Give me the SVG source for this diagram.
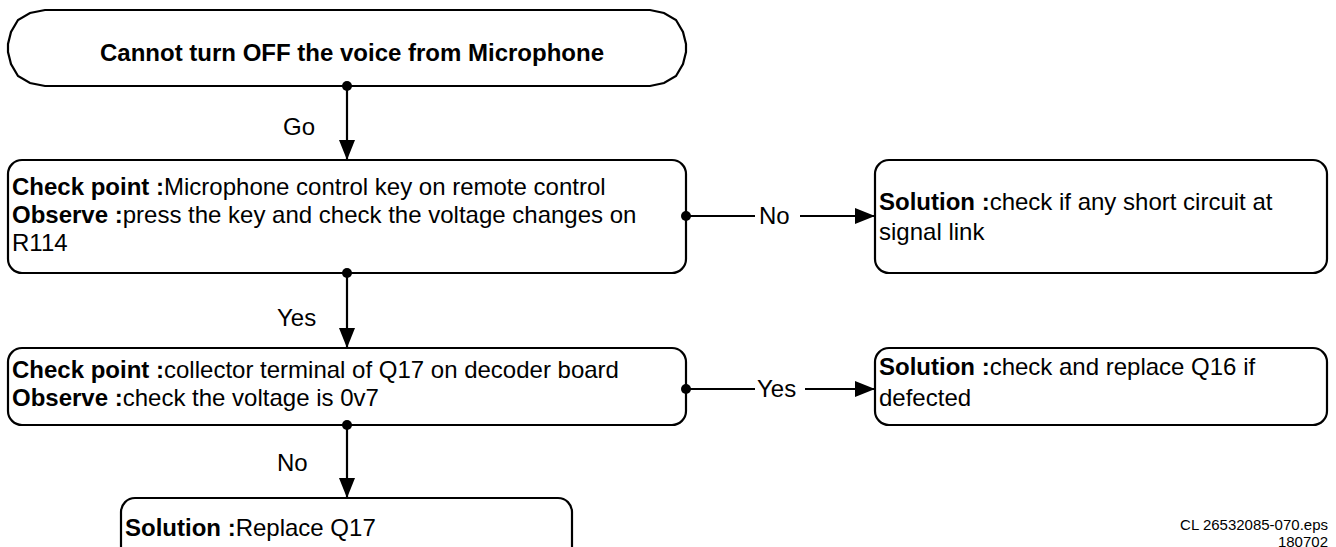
<svg xmlns="http://www.w3.org/2000/svg" width="1336" height="547" viewBox="0 0 1336 547">
<defs>
<style>
.box{fill:#fff;stroke:#000;stroke-width:2.2}
.ln{fill:none;stroke:#000;stroke-width:2.2}
.dot{fill:#000}
text{font-family:"Liberation Sans",Arial,sans-serif;font-size:24px;fill:#000}
.b{font-weight:bold}
.c{text-anchor:middle}
.ft{font-size:15px;text-anchor:end}
</style>
<marker id="ah" viewBox="0 0 20 16" refX="20" refY="8" markerWidth="20" markerHeight="16" markerUnits="userSpaceOnUse" orient="auto">
<path d="M0,0 L20,8 L0,16 Z" fill="#000"/>
</marker>
</defs>
<rect width="1336" height="547" fill="#fff"/>
<g id="start">
<path class="box" d="M45,10 L650,10 L664,13 L676,20 L683,32 L686,44 L686,52 L683,64 L676,76 L664,83 L650,86 L45,86 L30,83 L18,76 L11,64 L8,52 L8,44 L11,32 L18,20 L30,13 Z"/>
<text class="b c" x="352" y="61">Cannot turn OFF the voice from Microphone</text>
</g>
<g id="check1">
<rect class="box" x="8" y="160" width="678" height="113" rx="14"/>
<text x="12" y="195"><tspan class="b">Check point :</tspan>Microphone control key on remote control</text>
<text x="12" y="223"><tspan class="b">Observe :</tspan>press the key and check the voltage changes on</text>
<text x="12" y="251">R114</text>
</g>
<g id="sol1">
<rect class="box" x="875" y="160" width="452" height="113" rx="14"/>
<text x="879" y="210"><tspan class="b">Solution :</tspan>check if any short circuit at</text>
<text x="879" y="240">signal link</text>
</g>
<g id="check2">
<rect class="box" x="8" y="348" width="678" height="77" rx="14"/>
<text x="12" y="378"><tspan class="b">Check point :</tspan>collector terminal of Q17 on decoder board</text>
<text x="12" y="406"><tspan class="b">Observe :</tspan>check the voltage is 0v7</text>
</g>
<g id="sol2">
<rect class="box" x="875" y="348" width="452" height="77" rx="14"/>
<text x="879" y="375"><tspan class="b">Solution :</tspan>check and replace Q16 if</text>
<text x="879" y="406">defected</text>
</g>
<g id="sol3">
<rect class="box" x="121" y="498" width="451" height="80" rx="14"/>
<text x="125" y="536"><tspan class="b">Solution :</tspan>Replace Q17</text>
</g>
<g id="connectors">
<circle class="dot" cx="347" cy="86" r="5"/>
<line class="ln" x1="347" y1="86" x2="347" y2="160" marker-end="url(#ah)"/>
<text x="283" y="135">Go</text>
<circle class="dot" cx="686" cy="216" r="5"/>
<line class="ln" x1="686" y1="216" x2="755" y2="216"/>
<text x="759" y="224">No</text>
<line class="ln" x1="800" y1="216" x2="875" y2="216" marker-end="url(#ah)"/>
<circle class="dot" cx="347" cy="273" r="5"/>
<line class="ln" x1="347" y1="273" x2="347" y2="348" marker-end="url(#ah)"/>
<text x="277" y="326">Yes</text>
<circle class="dot" cx="686" cy="389" r="5"/>
<line class="ln" x1="686" y1="389" x2="755" y2="389"/>
<text x="757" y="397">Yes</text>
<line class="ln" x1="805" y1="389" x2="875" y2="389" marker-end="url(#ah)"/>
<circle class="dot" cx="347" cy="425" r="5"/>
<line class="ln" x1="347" y1="425" x2="347" y2="498" marker-end="url(#ah)"/>
<text x="277" y="471">No</text>
</g>
<text class="ft" x="1328" y="530">CL 26532085-070.eps</text>
<text class="ft" x="1328" y="547">180702</text>
</svg>
